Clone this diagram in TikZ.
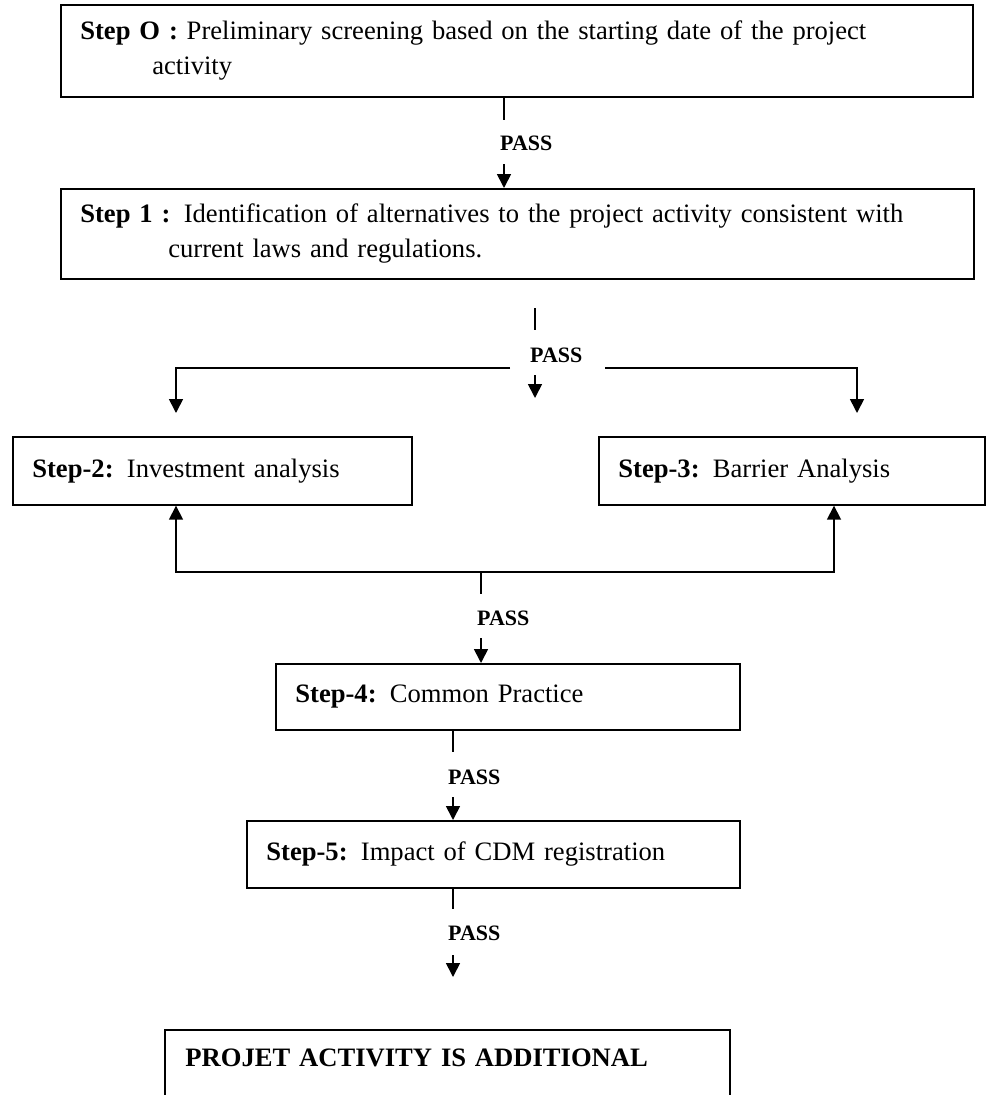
\documentclass[tikz,border=0pt]{standalone}
\usepackage{fontspec}
\setmainfont{Liberation Serif}
\usetikzlibrary{arrows.meta}
\usetikzlibrary{positioning}
\usetikzlibrary{calc}

\begin{document}
\begin{tikzpicture}[x=1pt, y=-1pt,
    box/.style={draw, line width=1.7pt, anchor=north west, align=left, inner xsep=19.5pt, inner ysep=0pt, font=\fontsize{26.6}{35}\selectfont},
    pass/.style={anchor=west, inner sep=0pt, font=\fontsize{22}{26}\selectfont\bfseries},
    link/.style={line width=1.7pt},
    arr/.style={link, -{Triangle[length=14pt, width=14pt]}}]
    \useasboundingbox (0,0) rectangle (987,1095);

    \node[box, minimum width=912pt, minimum height=92pt, text width=873pt] (s0) at (60,4) {\textbf{Step O :} Preliminary screening based on the starting date of the project\\\hspace*{72pt}activity};
    \node[box, minimum width=913pt, minimum height=90pt, text width=874pt] (s1) at (60,188) {\textbf{Step 1 :} Identification of alternatives to the project activity consistent with\\\hspace*{88pt}current laws and regulations.};
    \node[box, minimum width=399pt, minimum height=68pt, text width=360pt] (s2) at (12,436) {\textbf{Step-2:} Investment analysis};
    \node[box, minimum width=386pt, minimum height=68pt, text width=347pt] (s3) at (598,436) {\textbf{Step-3:} Barrier Analysis};
    \node[box, minimum width=464pt, minimum height=66pt, text width=425pt] (s4) at (275,663) {\textbf{Step-4:} Common Practice};
    \node[box, minimum width=493pt, minimum height=67pt, text width=454pt] (s5) at (246,820) {\textbf{Step-5:} Impact of CDM registration};
    \node[box, draw=none, minimum width=563pt, minimum height=54pt, text width=524pt] (s6) at (165,1030) {\textbf{PROJET ACTIVITY IS ADDITIONAL}};
    \draw[link] ($(s6.south west)+(0,60)$) -- (s6.north west) -- (s6.north east) -- ($(s6.south east)+(0,60)$);

    % step 0 -> step 1
    \coordinate (a0) at (504,120);
    \coordinate (b0) at (504,164);
    \draw[link] (s0.south -| a0) -- (a0);
    \node[pass] (p0) at (500,143) {PASS};
    \draw[arr] (b0) -- (s1.north -| b0);

    % step 1 -> steps 2 and 3
    \coordinate (a1) at (535,308);
    \coordinate (a1e) at (535,330);
    \coordinate (m1) at (535,375);
    \coordinate (m1e) at (535,398);
    \coordinate (l1) at (510,368);
    \coordinate (l1e) at (176,413);
    \coordinate (r1) at (605,368);
    \coordinate (r1e) at (857,413);
    \draw[link] (a1) -- (a1e);
    \node[pass] (p1) at (530,355) {PASS};
    \draw[arr] (m1) -- (m1e);
    \draw[arr] (l1) -| (l1e);
    \draw[arr] (r1) -| (r1e);

    % steps 2 and 3 -> step 4
    \coordinate (j) at (481,572);
    \coordinate (je) at (481,594);
    \coordinate (b2) at (481,638);
    \draw[arr] (j) -| ($(s2.south west)+(164,0)$);
    \draw[arr] (j) -| ($(s3.south west)+(236,0)$);
    \draw[link] (j) -- (je);
    \node[pass] (p2) at (477,618) {PASS};
    \draw[arr] (b2) -- (s4.north -| b2);

    % step 4 -> step 5
    \coordinate (a4) at (453,752);
    \coordinate (b4) at (453,797);
    \draw[link] (s4.south -| a4) -- (a4);
    \node[pass] (p4) at (448,777) {PASS};
    \draw[arr] (b4) -- (s5.north -| b4);

    % step 5 -> result
    \coordinate (a5) at (453,909);
    \coordinate (b5) at (453,955);
    \coordinate (b5e) at (453,977);
    \draw[link] (s5.south -| a5) -- (a5);
    \node[pass] (p5) at (448,933) {PASS};
    \draw[arr] (b5) -- (b5e);
\end{tikzpicture}
\end{document}
